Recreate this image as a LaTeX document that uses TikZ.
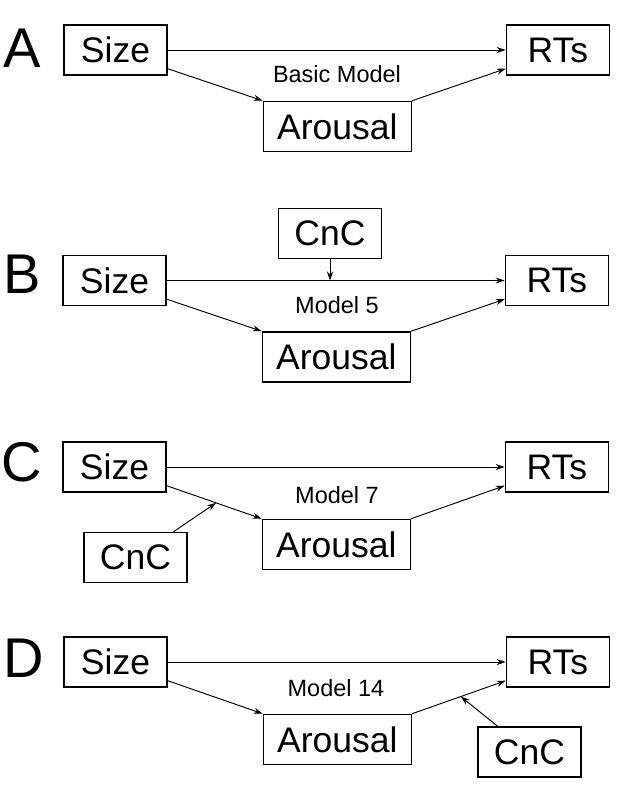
\documentclass[tikz,border=0pt]{standalone}
\usepackage{fontspec}
\setmainfont{Liberation Sans}
\usetikzlibrary{positioning,arrows.meta,calc}

\begin{document}
\begin{tikzpicture}[x=1pt,y=-1pt,
    box/.style={draw,line width=1.4pt,minimum width=103pt,minimum height=50pt,inner sep=0pt,font=\fontsize{35.5}{40}\selectfont},
    wide/.style={minimum width=148pt},
    modl/.style={inner sep=0pt,font=\fontsize{23.5}{26}\selectfont},
    panel/.style={anchor=base west,inner sep=0pt,font=\fontsize{56}{60}\selectfont},
    arr/.style={line width=0.95pt,-{Stealth[length=9pt,width=6pt]}}]
    \useasboundingbox (0,0) rectangle (639,796);

    %panel A
    \node[panel] (pA) at (3,67) {A};
    \node[box] (SizeA) at (115.5,50) {Size};
    \node[box,right=338pt of SizeA] (RTsA) {RTs};
    \node[box,wide,below right=25pt and 95pt of SizeA] (ArousalA) {Arousal};
    \node[modl] (labA) at (337,74) {Basic Model};
    \draw[arr] (SizeA) -- (RTsA);
    \draw[arr] ([yshift=7pt]SizeA.south east) -- (ArousalA.north west);
    \draw[arr] (ArousalA.north east) -- ([yshift=7pt]RTsA.south west);

    %panel B
    \node[panel] (pB) at (3,293) {B};
    \node[box] (SizeB) at (114.5,280.5) {Size};
    \node[box,right=338pt of SizeB] (RTsB) {RTs};
    \node[box,wide,below right=25pt and 95pt of SizeB] (ArousalB) {Arousal};
    \node[box] (CnCB) at (330,233.5) {CnC};
    \node[modl] (labB) at (337,305) {Model 5};
    \draw[arr] (SizeB) -- (RTsB);
    \draw[arr] ([yshift=7pt]SizeB.south east) -- (ArousalB.north west);
    \draw[arr] (ArousalB.north east) -- ([yshift=7pt]RTsB.south west);
    \coordinate (xB) at (CnCB.south |- SizeB.east);
    \draw[arr] (CnCB) -- (xB);

    %panel C
    \node[panel] (pC) at (1,481) {C};
    \node[box] (SizeC) at (114.5,467) {Size};
    \node[box,right=338pt of SizeC] (RTsC) {RTs};
    \node[box,wide,below right=26pt and 95pt of SizeC] (ArousalC) {Arousal};
    \node[box] (CnCC) at (135.5,557.5) {CnC};
    \node[modl] (labC) at (337,495) {Model 7};
    \draw[arr] (SizeC) -- (RTsC);
    \draw[arr] ([yshift=7pt]SizeC.south east) -- (ArousalC.north west);
    \draw[arr] (ArousalC.north east) -- ([yshift=7pt]RTsC.south west);
    \coordinate (xC) at ($([yshift=7pt]SizeC.south east)!0.52!(ArousalC.north west)$);
    \draw[arr] (CnCC) -- (xC);

    %panel D
    \node[panel] (pD) at (3,677) {D};
    \node[box] (SizeD) at (115.5,662) {Size};
    \node[box,right=338pt of SizeD] (RTsD) {RTs};
    \node[box,wide,below right=26pt and 95pt of SizeD] (ArousalD) {Arousal};
    \node[box] (CnCD) at (529.5,752) {CnC};
    \node[modl] (labD) at (336,688) {Model 14};
    \draw[arr] (SizeD) -- (RTsD);
    \draw[arr] ([yshift=7pt]SizeD.south east) -- (ArousalD.north west);
    \draw[arr] (ArousalD.north east) -- ([yshift=7pt]RTsD.south west);
    \coordinate (xD) at ($(ArousalD.north east)!0.52!([yshift=7pt]RTsD.south west)$);
    \draw[arr] (CnCD) -- (xD);
\end{tikzpicture}
\end{document}
